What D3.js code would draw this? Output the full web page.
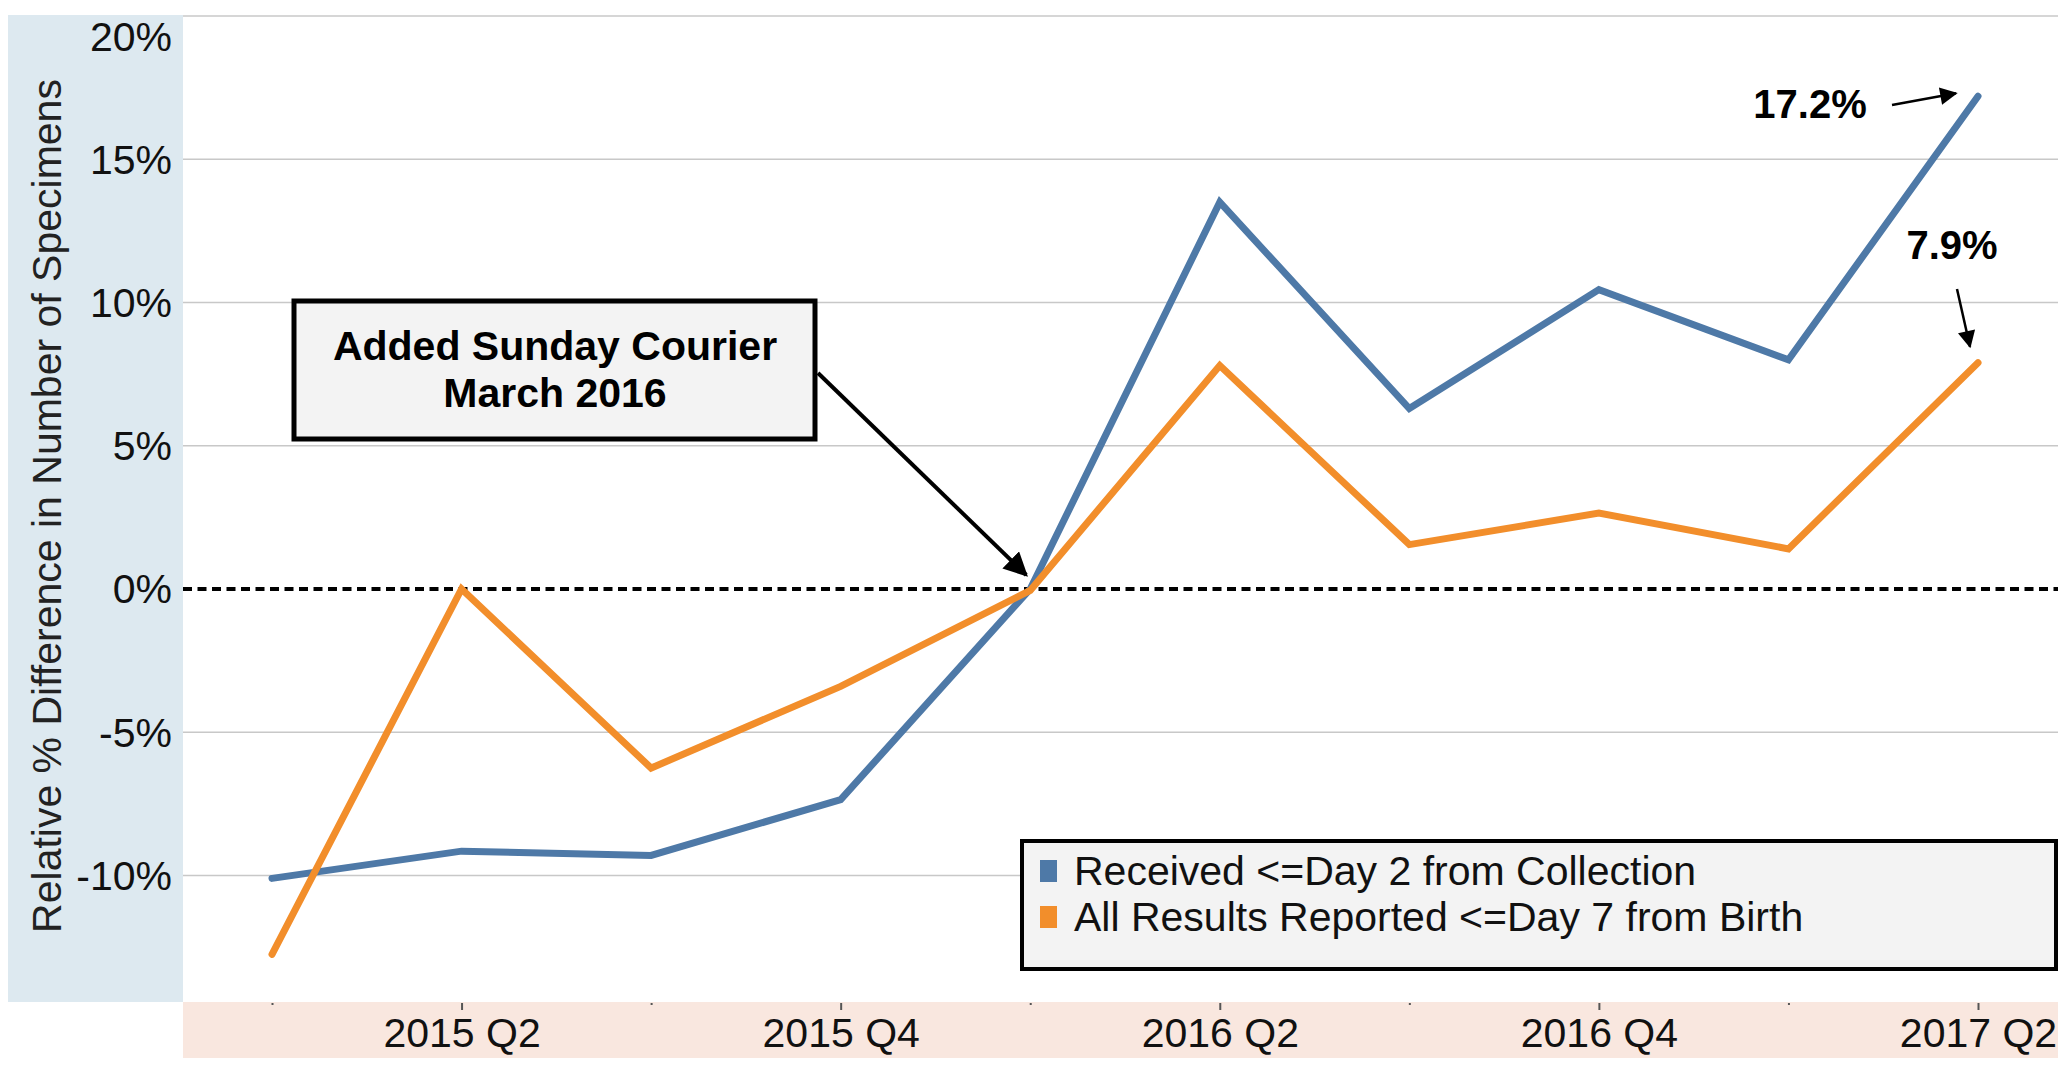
<!DOCTYPE html>
<html>
<head>
<meta charset="utf-8">
<script src="https://cdn.jsdelivr.net/npm/d3@7"></script>
<style>
  body { margin: 0; background: #fff; }
  svg { display: block; font-family: "Liberation Sans", Arial, sans-serif; }
</style>
</head>
<body>
<svg id="chart" width="2072" height="1067"></svg>
<script>
var quarters = ["2015 Q1", "2015 Q2", "2015 Q3", "2015 Q4", "2016 Q1", "2016 Q2", "2016 Q3", "2016 Q4", "2017 Q1", "2017 Q2"];
var labeledQuarters = ["2015 Q2", "2015 Q4", "2016 Q2", "2016 Q4", "2017 Q2"];
var received = [-10.1, -9.15, -9.3, -7.35, 0.0, 13.5, 6.3, 10.45, 8.0, 17.2];
var reported = [-12.75, 0.0, -6.25, -3.4, -0.05, 7.8, 1.55, 2.65, 1.4, 7.9];
var yTicks = [-10, -5, 0, 5, 10, 15, 20];
var seriesNames = ["Received <=Day 2 from Collection", "All Results Reported <=Day 7 from Birth"];
var colors = ["#4e79a7", "#f28e2b"];

var svg = d3.select("#chart");
var plotLeft = 183, plotRight = 2058, plotTop = 15, plotBottom = 1002;

var x = d3.scalePoint().domain(quarters).range([272, 1978]);
var y = d3.scaleLinear().domain([-10, 20]).range([875.5, 16]);

// panels behind axes
svg.append("rect").attr("x", 8).attr("y", plotTop).attr("width", plotLeft - 8).attr("height", plotBottom - plotTop).attr("fill", "#dde9f0");
svg.append("rect").attr("x", plotLeft).attr("y", plotBottom).attr("width", plotRight - plotLeft).attr("height", 56).attr("fill", "#f9e7df");

// gridlines
svg.append("g")
  .selectAll("line")
  .data(yTicks.filter((d) => d !== 0))
  .join("line")
  .attr("x1", plotLeft)
  .attr("x2", plotRight)
  .attr("y1", (d) => y(d))
  .attr("y2", (d) => y(d))
  .attr("stroke", "#c8c8c8")
  .attr("stroke-width", 1.5);

// zero line
svg.append("line")
  .attr("x1", plotLeft).attr("x2", plotRight)
  .attr("y1", y(0)).attr("y2", y(0))
  .attr("stroke", "#000").attr("stroke-width", 4)
  .attr("stroke-dasharray", "9,5.5");

// y tick labels
svg.append("g")
  .selectAll("text")
  .data(yTicks)
  .join("text")
  .attr("x", 172)
  .attr("y", (d) => (d === 20 ? y(d) + 21 : y(d)))
  .attr("dy", "0.35em")
  .attr("text-anchor", "end")
  .attr("font-size", 41)
  .attr("fill", "#111")
  .text((d) => d + "%");

// y axis title
svg.append("text")
  .attr("transform", "translate(47," + 506 + ") rotate(-90)")
  .attr("text-anchor", "middle")
  .attr("dy", "0.35em")
  .attr("font-size", 41)
  .attr("fill", "#222")
  .text("Relative % Difference in Number of Specimens");

// x axis
var xAxis = d3.axisBottom(x)
  .tickSize(0)
  .tickFormat((d) => (labeledQuarters.includes(d) ? d : ""));
var gx = svg.append("g").attr("transform", "translate(0," + plotBottom + ")").call(xAxis);
gx.select(".domain").remove();
gx.selectAll(".tick line")
  .attr("y1", 1)
  .attr("y2", (d) => (labeledQuarters.includes(d) ? 8 : 3))
  .attr("stroke", "#555")
  .attr("stroke-width", 2);
gx.selectAll(".tick text")
  .attr("y", 31)
  .attr("dy", "0.35em")
  .attr("font-size", 41)
  .attr("font-family", "Liberation Sans, Arial, sans-serif")
  .attr("fill", "#111");

// lines
var line = d3.line().x((d, i) => x(quarters[i])).y((d) => y(d));
[received, reported].forEach(function (vals, k) {
  svg.append("path")
    .datum(vals)
    .attr("d", line)
    .attr("fill", "none")
    .attr("stroke", colors[k])
    .attr("stroke-width", 7)
    .attr("stroke-linejoin", "miter")
    .attr("stroke-linecap", "round");
});

// arrowhead markers
var defs = svg.append("defs");
defs.append("marker")
  .attr("id", "head")
  .attr("viewBox", "0 0 10 10")
  .attr("refX", 9).attr("refY", 5)
  .attr("markerWidth", 6).attr("markerHeight", 6)
  .attr("markerUnits", "strokeWidth")
  .attr("orient", "auto")
  .append("path").attr("d", "M0,0 L10,5 L0,10 Z").attr("fill", "#000");
defs.append("marker")
  .attr("id", "headsmall")
  .attr("viewBox", "0 0 10 10")
  .attr("refX", 9).attr("refY", 5)
  .attr("markerWidth", 8).attr("markerHeight", 7)
  .attr("markerUnits", "strokeWidth")
  .attr("orient", "auto")
  .append("path").attr("d", "M0,0 L10,5 L0,10 Z").attr("fill", "#000");

// annotation box
var ann = svg.append("g");
ann.append("rect")
  .attr("x", 294).attr("y", 301).attr("width", 521).attr("height", 138)
  .attr("fill", "#f3f3f3").attr("stroke", "#000").attr("stroke-width", 5);
ann.append("text")
  .attr("x", 555).attr("y", 346).attr("dy", "0.35em")
  .attr("text-anchor", "middle").attr("font-size", 41).attr("font-weight", "bold")
  .text("Added Sunday Courier");
ann.append("text")
  .attr("x", 555).attr("y", 393).attr("dy", "0.35em")
  .attr("text-anchor", "middle").attr("font-size", 41).attr("font-weight", "bold")
  .text("March 2016");
ann.append("line")
  .attr("x1", 818).attr("y1", 373)
  .attr("x2", x("2016 Q1") - 4).attr("y2", y(0) - 14)
  .attr("stroke", "#000").attr("stroke-width", 4)
  .attr("marker-end", "url(#head)");

// end labels
var last = quarters[quarters.length - 1];
svg.append("text")
  .attr("x", 1810).attr("y", 104).attr("dy", "0.35em")
  .attr("text-anchor", "middle").attr("font-size", 40).attr("font-weight", "bold")
  .text(received[received.length - 1].toFixed(1) + "%");
svg.append("line")
  .attr("x1", 1892).attr("y1", 105)
  .attr("x2", x(last) - 22).attr("y2", y(received[received.length - 1]) - 3)
  .attr("stroke", "#000").attr("stroke-width", 2.5)
  .attr("marker-end", "url(#headsmall)");
svg.append("text")
  .attr("x", 1952).attr("y", 245).attr("dy", "0.35em")
  .attr("text-anchor", "middle").attr("font-size", 40).attr("font-weight", "bold")
  .text(reported[reported.length - 1].toFixed(1) + "%");
svg.append("line")
  .attr("x1", 1957).attr("y1", 289)
  .attr("x2", 1970).attr("y2", y(reported[reported.length - 1]) - 16)
  .attr("stroke", "#000").attr("stroke-width", 2.5)
  .attr("marker-end", "url(#headsmall)");

// legend
var legend = svg.append("g");
legend.append("rect")
  .attr("x", 1022).attr("y", 841).attr("width", 1034).attr("height", 128)
  .attr("fill", "#f3f3f3").attr("stroke", "#000").attr("stroke-width", 4);
seriesNames.forEach(function (name, k) {
  var cy = 871 + k * 46;
  legend.append("rect")
    .attr("x", 1040).attr("y", cy - 11).attr("width", 17).attr("height", 22)
    .attr("fill", colors[k]);
  legend.append("text")
    .attr("x", 1074).attr("y", cy).attr("dy", "0.35em")
    .attr("font-size", 41).attr("fill", "#111")
    .text(name);
});
</script>
</body>
</html>
